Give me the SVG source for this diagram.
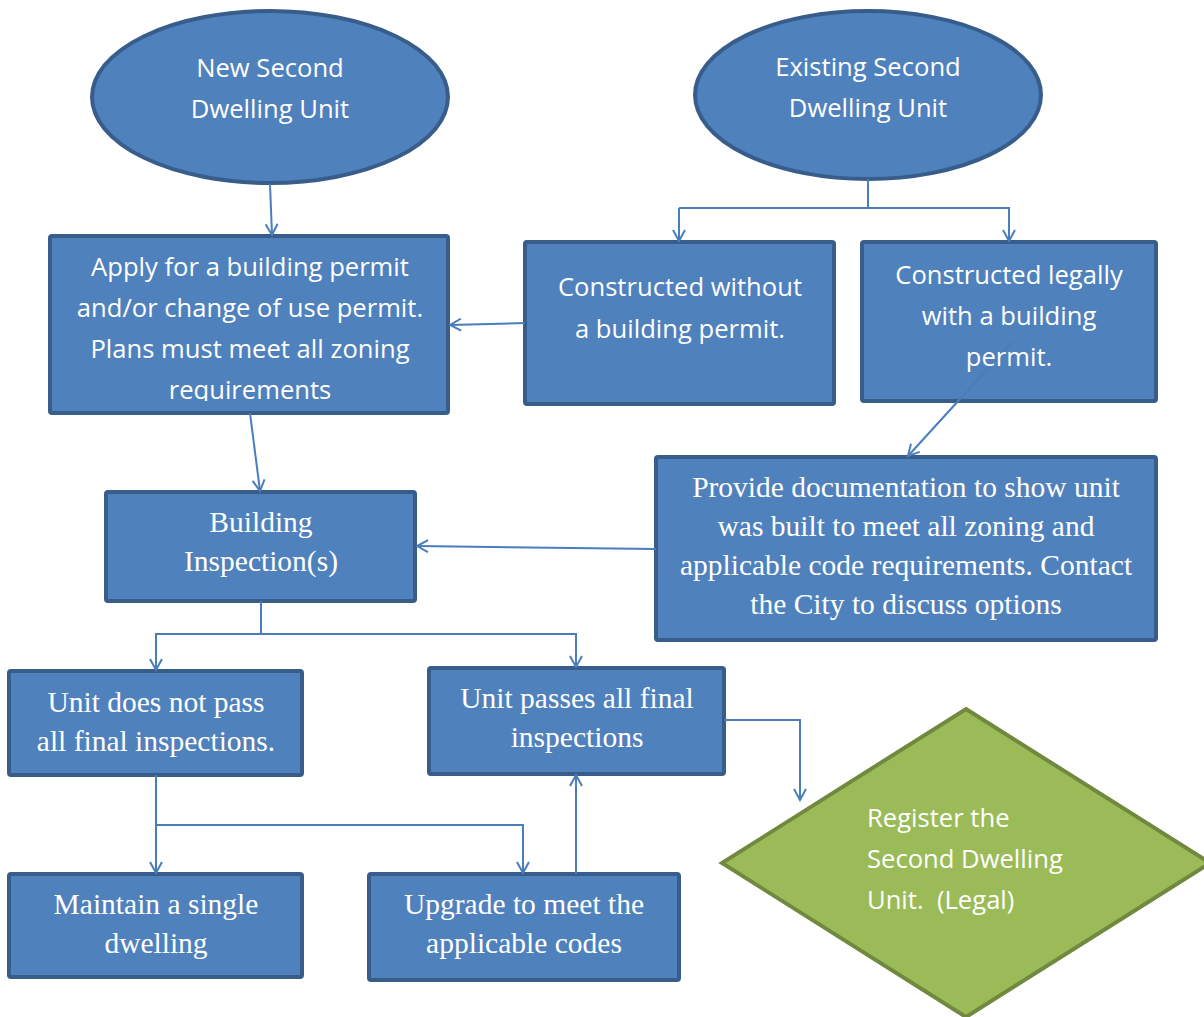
<svg xmlns="http://www.w3.org/2000/svg" width="1204" height="1017" viewBox="0 0 1204 1017">
<style>
.n{fill:#4F81BD;stroke:#385D8A;stroke-width:4}
.g{fill:#9BBB59;stroke:#71893F;stroke-width:4}
.s{font-family:"Open Sans","Liberation Sans",sans-serif;font-size:25.6px;fill:#fff;text-anchor:middle}
.r{font-family:"Liberation Serif","Times New Roman",serif;font-size:29.5px;fill:#fff;text-anchor:middle}
.c{fill:none;stroke:#4A7EBB;stroke-width:2}
</style>
<defs>
<marker id="a" markerWidth="14" markerHeight="14" refX="12" refY="7" orient="auto" markerUnits="userSpaceOnUse">
<path d="M1,1 L12,7 L1,13" fill="none" stroke="#4A7EBB" stroke-width="2"/>
</marker>
<clipPath id="clipApply"><rect x="50" y="236" width="398" height="165"/></clipPath>
</defs>
<g id="n1"><ellipse class="n" cx="270" cy="97" rx="178" ry="86"/>
<text class="s" x="270" y="77">New Second</text><text class="s" x="270" y="118">Dwelling Unit</text></g>
<g id="n2"><ellipse class="n" cx="868" cy="95" rx="173" ry="84"/>
<text class="s" x="868" y="76">Existing Second</text><text class="s" x="868" y="117">Dwelling Unit</text></g>
<g id="n3"><rect class="n" x="50" y="236" width="398" height="177" rx="2"/>
<g clip-path="url(#clipApply)">
<text class="s" x="250" y="276">Apply for a building permit</text>
<text class="s" x="250" y="317">and/or change of use permit.</text>
<text class="s" x="250" y="358">Plans must meet all zoning</text>
<text class="s" x="250" y="399">requirements</text></g></g>
<g id="n4"><rect class="n" x="525" y="242" width="309" height="162" rx="2"/>
<text class="s" x="680" y="296">Constructed without</text><text class="s" x="680" y="338">a building permit.</text></g>
<g id="n5"><rect class="n" x="862" y="242" width="294" height="159" rx="2"/></g>
<g id="n6"><rect class="n" x="656" y="457" width="500" height="183" rx="2"/>
<text class="r" x="906" y="497">Provide documentation to show unit</text>
<text class="r" x="906" y="536">was built to meet all zoning and</text>
<text class="r" x="906" y="575">applicable code requirements. Contact</text>
<text class="r" x="906" y="614">the City to discuss options</text></g>
<g id="n7"><rect class="n" x="106" y="492" width="309" height="109" rx="2"/>
<text class="r" x="261" y="532">Building</text><text class="r" x="261" y="571">Inspection(s)</text></g>
<g id="n8"><rect class="n" x="9" y="671" width="293" height="104" rx="2"/>
<text class="r" x="156" y="712">Unit does not pass</text><text class="r" x="156" y="751">all final inspections.</text></g>
<g id="n9"><rect class="n" x="429" y="668" width="295" height="106" rx="2"/>
<text class="r" x="577" y="708">Unit passes all final</text><text class="r" x="577" y="747">inspections</text></g>
<g id="n10"><rect class="n" x="9" y="874" width="293" height="103" rx="2"/>
<text class="r" x="156" y="914">Maintain a single</text><text class="r" x="156" y="953">dwelling</text></g>
<g id="n11"><rect class="n" x="369" y="874" width="310" height="106" rx="2"/>
<text class="r" x="524" y="914">Upgrade to meet the</text><text class="r" x="524" y="953">applicable codes</text></g>
<g id="n12"><polygon class="g" points="966,709 1210,863 966,1017 722,863"/>
<text class="s" x="867" y="827" style="text-anchor:start">Register the</text>
<text class="s" x="867" y="868" style="text-anchor:start">Second Dwelling</text>
<text class="s" x="867" y="909" style="text-anchor:start" xml:space="preserve">Unit.  (Legal)</text></g>
<g id="connectors">
<path class="c" d="M270,184 L272,235" marker-end="url(#a)"/>
<path class="c" d="M868,179 L868,208 M868,208 L679,208"/>
<path class="c" d="M679,208 L679,241" marker-end="url(#a)"/>
<path class="c" d="M868,208 L1009,208 L1009,241" marker-end="url(#a)"/>
<path class="c" d="M525,323 L450,325" marker-end="url(#a)"/>
<path class="c" d="M1012,342 L908,456" marker-end="url(#a)"/>
<path class="c" d="M250,413 L260,491" marker-end="url(#a)"/>
<path class="c" d="M656,549 L417,546" marker-end="url(#a)"/>
<path class="c" d="M261,601 L261,634 L156,634 L156,670" marker-end="url(#a)"/>
<path class="c" d="M261,634 L576,634 L576,667" marker-end="url(#a)"/>
<path class="c" d="M724,720 L800,720 L800,800" marker-end="url(#a)"/>
<path class="c" d="M156,775 L156,873" marker-end="url(#a)"/>
<path class="c" d="M156,825 L523,825 L523,873" marker-end="url(#a)"/>
<path class="c" d="M576,874 L576,775" marker-end="url(#a)"/>
</g>
<g id="n5text">
<text class="s" x="1009" y="284">Constructed legally</text><text class="s" x="1009" y="325">with a building</text><text class="s" x="1009" y="366">permit.</text></g>
</svg>
